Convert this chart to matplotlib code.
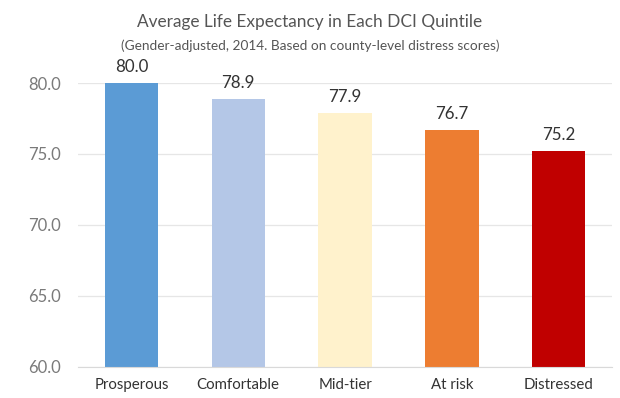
import matplotlib
matplotlib.use("Agg")
import matplotlib.pyplot as plt

categories = ["Prosperous", "Comfortable", "Mid-tier", "At risk", "Distressed"]
values = [80.0, 78.9, 77.9, 76.7, 75.2]
colors = ["#5B9BD5", "#B4C7E7", "#FFF2CC", "#ED7D31", "#C00000"]
yticks = [60, 65, 70, 75, 80]

plt.rcParams['font.family'] = ['Lato', 'DejaVu Sans']

fig = plt.figure(figsize=(6.2, 3.98), dpi=100)
ax = fig.add_axes([78/620, 31/398, (612-78)/620, (367-83)/398])

x = range(len(categories))
bars = ax.bar(x, [v - 60 for v in values], bottom=60, width=0.5, color=colors, zorder=3)
ax.set_xlim(-0.5, 4.5)
ax.set_ylim(60, 80)
ax.set_yticks(yticks)
ax.set_yticklabels([f"{t:.1f}" for t in yticks], color="#7a7a7a", fontsize=12)
ax.set_xticks(list(x))
ax.set_xticklabels(categories, color="#333333", fontsize=10.8)
ax.tick_params(axis='both', length=0)
ax.tick_params(axis='y', pad=12)
ax.tick_params(axis='x', pad=8)
ax.grid(axis='y', color="#e6e6e6", linewidth=0.9, zorder=0)
for s in ["top", "right", "left"]:
    ax.spines[s].set_visible(False)
ax.spines["bottom"].set_color("#d9d9d9")
ax.spines["bottom"].set_zorder(4)

for xi, v in zip(x, values):
    ax.text(xi, v + 0.55, f"{v:.1f}", ha='center', va='bottom', fontsize=12.2,
            color="#333333", clip_on=False)

fig.text(0.5, 1 - 22/398, "Average Life Expectancy in Each DCI Quintile",
         ha='center', va='center', fontsize=12.4, color="#555555")
fig.text(0.5, 1 - 46/398, "(Gender-adjusted, 2014. Based on county-level distress scores)",
         ha='center', va='center', fontsize=9.8, color="#555555")

fig.savefig("out.png", dpi=100)
